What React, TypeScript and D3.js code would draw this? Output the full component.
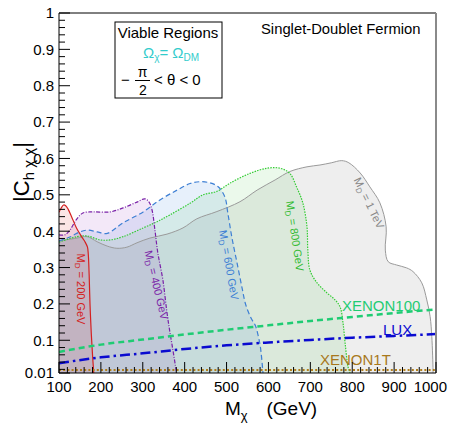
import React from "react";
import * as d3 from "d3";

const W = 450;
const H = 423;

const xDomain = [100, 1000];
const yDomain = [0.01, 1];
const xTicks = [100, 200, 300, 400, 500, 600, 700, 800, 900, 1000];
const xMinorStep = 20;
const yTicks = [0.01, 0.1, 0.2, 0.3, 0.4, 0.5, 0.6, 0.7, 0.8, 0.9, 1];
const yTickLabels = ["0.01", "0.1", "0.2", "0.3", "0.4", "0.5", "0.6", "0.7", "0.8", "0.9", "1"];
const yMinorStep = 0.02;

// Viable-region boundaries: [M_chi (GeV), |C_hχχ|]
const md200 = [[100,0.452],[105,0.463],[111,0.472],[116,0.47],[122,0.46],[130,0.44],[142,0.408],[154,0.385],[162,0.371],[168,0.356],[170,0.335],[172,0.28],[174,0.2],[177,0.12],[180,0.06],[183,0.01]];
const md400 = [[100,0.39],[114,0.39],[126,0.403],[141,0.431],[157,0.45],[181,0.453],[222,0.453],[253,0.464],[286,0.48],[305,0.489],[315,0.48],[322,0.459],[329,0.403],[336,0.34],[348,0.266],[357,0.183],[364,0.128],[372,0.073],[378,0.03],[381,0.01]];
const md600 = [[100,0.373],[126,0.384],[150,0.398],[169,0.403],[191,0.398],[215,0.394],[253,0.423],[301,0.453],[341,0.486],[382,0.513],[413,0.531],[437,0.536],[460,0.533],[480,0.522],[496,0.494],[503,0.45],[513,0.381],[525,0.313],[537,0.244],[546,0.197],[559,0.16],[569,0.14],[576,0.11],[581,0.08],[587,0.01]];
const md800 = [[100,0.37],[143,0.385],[167,0.387],[198,0.376],[222,0.376],[253,0.385],[301,0.409],[334,0.426],[365,0.445],[413,0.477],[444,0.5],[476,0.509],[508,0.532],[556,0.559],[596,0.573],[628,0.573],[651,0.559],[667,0.522],[682,0.478],[692,0.412],[694,0.348],[699,0.293],[716,0.258],[740,0.23],[759,0.211],[771,0.192],[778,0.148],[783,0.093],[790,0.027],[795,0.01]];
const md1000 = [[100,0.373],[143,0.381],[167,0.385],[191,0.371],[215,0.359],[238,0.353],[262,0.356],[286,0.368],[317,0.381],[358,0.392],[396,0.409],[429,0.434],[477,0.454],[532,0.481],[573,0.513],[616,0.541],[651,0.564],[692,0.577],[723,0.582],[750,0.588],[775,0.594],[792,0.588],[819,0.56],[842,0.522],[866,0.478],[881,0.412],[879,0.348],[886,0.316],[906,0.307],[930,0.299],[945,0.289],[966,0.258],[978,0.211],[986,0.165],[990,0.11],[993,0.018],[993,0.01]];

// Direct-detection limits
const xenon100 = [[100,0.068],[200,0.088],[300,0.102],[400,0.116],[500,0.129],[600,0.141],[700,0.153],[800,0.164],[900,0.175],[1000,0.185]];
const lux = [[100,0.037],[200,0.053],[300,0.064],[400,0.076],[500,0.086],[600,0.094],[700,0.101],[800,0.107],[900,0.112],[1000,0.117]];
const xenon1t = [[100,0.018],[400,0.018],[700,0.018],[1000,0.018]];

const FONT = "'Liberation Sans', Arial, Helvetica, sans-serif";

const regions = [
  { data: md1000, fill: "rgba(170,170,170,0.2)", stroke: "#9a9a9a", dash: undefined, sw: 1, label: "1 TeV", lx: 369, ly: 203, angle: 64, color: "#888888" },
  { data: md800, fill: "rgba(60,200,60,0.1)", stroke: "#33cc33", dash: "1.5,1.2", sw: 1.2, label: "800 GeV", lx: 295, ly: 236, angle: 81.5, color: "#33bb33" },
  { data: md600, fill: "rgba(40,120,220,0.11)", stroke: "#3d7fd4", dash: "5,3", sw: 1.2, label: "600 GeV", lx: 229, ly: 265, angle: 80, color: "#3d7fd4" },
  { data: md400, fill: "rgba(120,0,180,0.09)", stroke: "#7a22a8", dash: "4,1.5,1,1.5", sw: 1.2, label: "400 GeV", lx: 156.5, ly: 285, angle: 76.5, color: "#7a22a8" },
  { data: md200, fill: "rgba(220,0,0,0.1)", stroke: "#d42020", dash: undefined, sw: 1.2, label: "200 GeV", lx: 81, ly: 289, angle: 90, color: "#d42020" },
];

export default function App() {
  const x = d3.scaleLinear().domain(xDomain).range([59, 436]);
  const y = d3.scaleLinear().domain(yDomain).range([373, 13]);
  const smooth = d3.line<number[]>().x((d) => x(d[0])).y((d) => y(d[1])).curve(d3.curveCatmullRom.alpha(0.5));
  const straight = d3.line<number[]>().x((d) => x(d[0])).y((d) => y(d[1])).curve(d3.curveMonotoneX);

  const areaPath = (pts: number[][]) =>
    smooth(pts) + `L${x(pts[pts.length - 1][0])},${y(0.01)}L${x(pts[0][0])},${y(0.01)}Z`;

  const xMinor = d3.range(xDomain[0], xDomain[1] + 0.001, xMinorStep).filter((v) => !xTicks.includes(v));
  const yMinor = d3.range(0.02, 1.0001, yMinorStep).map((v) => +v.toFixed(2)).filter((v) => Math.abs(v * 10 - Math.round(v * 10)) > 1e-6);

  const [x0, x1] = x.range();
  const [yb, yt] = y.range();

  return (
    <svg width={W} height={H} style={{ position: "absolute", left: 0, top: 0, background: "#fff" }} fontFamily={FONT}>
      <defs>
        <clipPath id="plotclip">
          <rect x={x0} y={yt} width={x1 - x0} height={yb - yt} />
        </clipPath>
      </defs>
      <rect x={0} y={0} width={W} height={H} fill="#fff" />
      <g clipPath="url(#plotclip)">
        {regions.map((r, i) => (
          <path key={"f" + i} d={areaPath(r.data)} fill={r.fill} stroke="none" />
        ))}
        {regions.map((r, i) => (
          <path key={"l" + i} d={smooth(r.data) || ""} fill="none" stroke={r.stroke} strokeWidth={r.sw} strokeDasharray={r.dash} />
        ))}
        <path d={straight(xenon1t) || ""} fill="none" stroke="#b07d1a" strokeWidth={2} strokeDasharray="2,2.2" />
        <path d={straight(xenon100) || ""} fill="none" stroke="#1fcc73" strokeWidth={2.5} strokeDasharray="6,4" />
        <path d={straight(lux) || ""} fill="none" stroke="#0a0ad0" strokeWidth={2.5} strokeDasharray="10,4,2.5,4" />
      </g>

      {/* region labels */}
      {regions.map((r, i) => (
        <text key={"t" + i} x={0} y={0} transform={`translate(${r.lx},${r.ly}) rotate(${r.angle})`} textAnchor="middle" dy="0.35em" fontSize={11} fill={r.color}>
          M<tspan fontSize={8} dy={2.5}>D</tspan><tspan dy={-2.5}>{" = " + r.label}</tspan>
        </text>
      ))}

      {/* limit labels */}
      <text x={342} y={311} fontSize={15} fill="#1fcc73">XENON100</text>
      <text x={383} y={335} fontSize={15} fill="#0a0ad0">LUX</text>
      <text x={320} y={365} fontSize={15} fill="#a8781c">XENON1T</text>

      {/* frame */}
      <line x1={x0} x2={x1} y1={yt} y2={yt} stroke="#000" strokeWidth={1} />
      <line x1={x1} x2={x1} y1={yt} y2={yb} stroke="#8a8a8a" strokeWidth={2} />

      {/* y axis */}
      <line x1={x0} x2={x0} y1={yt} y2={yb} stroke="#000" strokeWidth={1} />
      {yTicks.map((v, i) => (
        <g key={"yt" + i}>
          <line x1={x0} x2={x0 + 11} y1={y(v)} y2={y(v)} stroke="#000" strokeWidth={1} />
          <text x={54} y={y(v)} dy="0.36em" textAnchor="end" fontSize={15} fill="#000">{yTickLabels[i]}</text>
        </g>
      ))}
      {yMinor.map((v, i) => (
        <line key={"ym" + i} x1={x0} x2={x0 + 6} y1={y(v)} y2={y(v)} stroke="#000" strokeWidth={1} />
      ))}

      {/* x axis */}
      <line x1={x0} x2={x1} y1={yb} y2={yb} stroke="#000" strokeWidth={1} />
      {xTicks.map((v, i) => {
        const last = i === xTicks.length - 1;
        return (
          <g key={"xt" + i}>
            <line x1={x(v)} x2={x(v)} y1={yb} y2={yb - 11} stroke="#000" strokeWidth={1} />
            <text x={last ? 447 : x(v)} y={391.5} textAnchor={last ? "end" : "middle"} fontSize={15} fill="#000">{String(v)}</text>
          </g>
        );
      })}
      {xMinor.map((v, i) => (
        <line key={"xm" + i} x1={x(v)} x2={x(v)} y1={yb} y2={yb - 6} stroke="#000" strokeWidth={1} />
      ))}

      {/* axis titles */}
      <text x={225} y={415} fontSize={19} fill="#000">M<tspan fontSize={13} dy={5}>χ</tspan></text>
      <text x={266.5} y={415} fontSize={19} fill="#000">(GeV)</text>
      <text x={0} y={0} transform="translate(29,172) rotate(-90)" textAnchor="middle" fontSize={22} fill="#000">
        |C<tspan fontSize={15} dy={5}>h χ χ</tspan><tspan dy={-5}>|</tspan>
      </text>

      {/* title */}
      <text x={261} y={34} fontSize={14.8} fill="#000">Singlet-Doublet Fermion</text>

      {/* legend box */}
      <rect x={115} y={22} width={107} height={76} fill="#fff" stroke="#000" strokeWidth={1} />
      <text x={168} y={38} textAnchor="middle" fontSize={15} fill="#000">Viable Regions</text>
      <text x={171} y={58} textAnchor="middle" fontSize={15} fill="#33cccc">
        Ω<tspan fontSize={10} dy={3}>χ</tspan><tspan dy={-3}>= Ω</tspan><tspan fontSize={10} dy={3}>DM</tspan>
      </text>
      <text x={121} y={85} fontSize={15} fill="#000">−</text>
      <text x={142.5} y={77} textAnchor="middle" fontSize={14} fill="#000">π</text>
      <line x1={135} x2={150} y1={80.5} y2={80.5} stroke="#000" strokeWidth={1} />
      <text x={143} y={94.5} textAnchor="middle" fontSize={14} fill="#000">2</text>
      <text x={154} y={85} fontSize={15} fill="#000">&lt; θ &lt; 0</text>
    </svg>
  );
}
